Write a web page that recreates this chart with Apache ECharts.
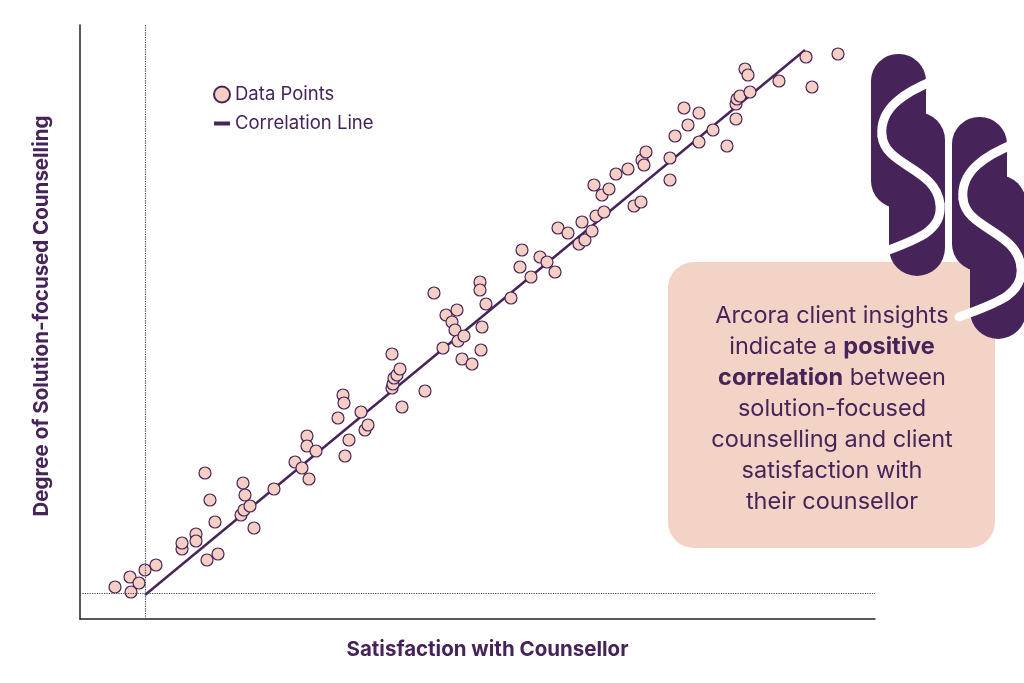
<!DOCTYPE html>
<html><head><meta charset="utf-8">
<script src="https://cdn.jsdelivr.net/npm/echarts@6/dist/echarts.min.js"></script>
<style>html,body{margin:0;background:#fff}#c{width:1024px;height:683px}</style>
</head><body><div id="c"></div>
<script>
// points, x right from y-axis, y up from x-axis
var pointsX = [35,50,51,59,65,76,102,102,116,116,127,138,135,125,130,163,165,161,164,170,174,194,215,222,229,227,227,236,258,263,264,269,265,281,285,288,312,312,313,314,317,320,322,345,354,363,366,372,377,375,378,382,384,392,400,400,402,401,406,431,440,442,451,460,467,475,478,488,499,502,505,512,514,516,522,524,529,536,548,554,561,562,566,564,590,590,595,604,608,619,619,633,647,656,656,657,660,665,668,670,699,726,732,758];
var pointsY = [32,42,27,36,49,54,70,76,85,78,59,65,97,146,119,136,124,104,109,113,91,130,157,151,140,183,173,168,201,224,216,179,163,207,189,194,265,231,235,241,244,250,212,228,326,271,304,297,309,289,278,260,283,255,337,329,292,269,315,321,352,369,342,362,357,347,391,386,375,397,379,388,434,403,424,407,430,445,450,413,417,459,467,454,439,461,483,511,494,506,477,489,473,500,515,520,523,550,544,527,538,562,532,565];
var lineX = [65, 725];
var lineY = [24, 569];
var refX = 65, refY = 26;

var purple = '#46245a', peach = '#f5cfc3';
var pts = pointsX.map(function (x, i) { return [x, pointsY[i]]; });

function curve(dx, dy, c) {
  return { type: 'bezierCurve', z: 2,
    shape: { x1: c[0] + dx, y1: c[1] + dy, cpx1: c[2] + dx, cpy1: c[3] + dy, cpx2: c[4] + dx, cpy2: c[5] + dy, x2: c[6] + dx, y2: c[7] + dy },
    style: { stroke: '#fff', lineWidth: 9, fill: null, lineCap: 'round' } };
}
// one S of the logo: two merged pills split by a white curve
function logoS(dx, dy) {
  return [
    { type: 'rect', x: 871 + dx, y: 54 + dy, z: 1, shape: { width: 55, height: 154, r: 27 }, style: { fill: purple } },
    { type: 'rect', x: 889 + dx, y: 112 + dy, z: 1, shape: { width: 56, height: 164, r: 28 }, style: { fill: purple } },
    curve(dx, dy, [935, 80, 905, 92, 879, 108, 882, 136]),
    curve(dx, dy, [882, 136, 885, 166, 936, 168, 940, 204]),
    curve(dx, dy, [940, 204, 943, 232, 915, 240, 878, 254])
  ];
}
var chart = echarts.init(document.getElementById('c'));
chart.setOption({
  animation: false,
  grid: { left: 80, right: 149, top: 25, bottom: 64 },
  legend: {
    orient: 'vertical', left: 208, top: 80, itemGap: 10, itemWidth: 16, itemHeight: 16,
    textStyle: { color: purple, fontSize: 18.5, fontFamily: 'Inter' },
    data: [{ name: 'Data Points', icon: 'circle' }, { name: 'Correlation Line', icon: 'path://M2,6 L12,6 L12,8.5 L2,8.5 Z' }]
  },
  xAxis: {
    type: 'value', min: 0, max: 795,
    name: 'Satisfaction with Counsellor', nameLocation: 'middle', nameGap: 20,
    nameTextStyle: { color: purple, fontSize: 20.5, fontWeight: 'bold', fontFamily: 'Inter', padding: [0, 0, 0, 20] },
    axisLine: { lineStyle: { color: '#222', width: 1.5 } },
    axisTick: { show: false }, axisLabel: { show: false }, splitLine: { show: false }
  },
  yAxis: {
    type: 'value', min: 0, max: 594,
    name: 'Degree of Solution-focused Counselling', nameLocation: 'middle', nameGap: 28,
    nameTextStyle: { color: purple, fontSize: 20.5, fontWeight: 'bold', fontFamily: 'Inter', padding: [0, 0, 0, 12] },
    axisLine: { show: true, lineStyle: { color: '#222', width: 1.5 } },
    axisTick: { show: false }, axisLabel: { show: false }, splitLine: { show: false }
  },
  series: [
    {
      name: 'Data Points', type: 'scatter', data: pts, symbolSize: 12,
      itemStyle: { color: peach, borderColor: purple, borderWidth: 1.2, opacity: 1 },
      markLine: {
        silent: true, symbol: 'none', label: { show: false },
        lineStyle: { color: '#444', type: 'dotted', width: 1.2 },
        data: [{ xAxis: refX }, { yAxis: refY }]
      }
    },
    {
      name: 'Correlation Line', type: 'line', showSymbol: false, z: 1,
      data: [[lineX[0], lineY[0]], [lineX[1], lineY[1]]],
      lineStyle: { color: purple, width: 2.5 }, itemStyle: { color: purple }
    }
  ],
  graphic: [
    { type: 'rect', x: 668, y: 262, z: 0, shape: { width: 327, height: 286, r: 26 }, style: { fill: '#f3d3c6' } }
  ].concat(logoS(0, 0), logoS(81, 63), [
    {
      type: 'text', z: 5,
      style: {
        x: 832, y: 300, textAlign: 'center',
        text: 'Arcora client insights\nindicate a {b|positive}\n{b|correlation} between\nsolution-focused\ncounselling and client\nsatisfaction with\ntheir counsellor',
        fill: purple, fontSize: 23.5, lineHeight: 31, fontFamily: 'Inter',
        rich: { b: { fontWeight: 'bold', fontSize: 23.5, fill: purple, fontFamily: 'Inter' } }
      }
    }
  ])
});
</script></body></html>
